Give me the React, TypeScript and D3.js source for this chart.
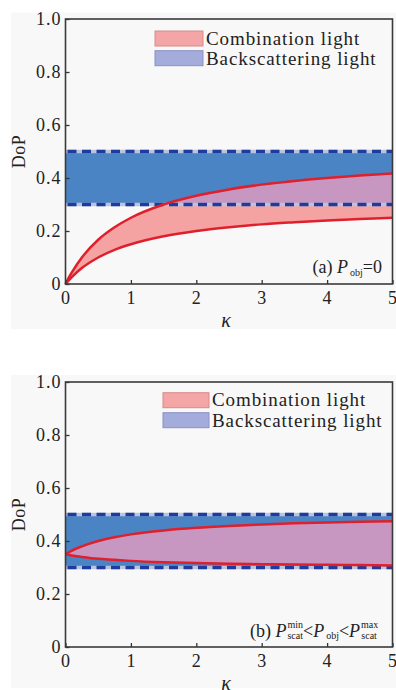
import { useEffect, useRef } from 'react'
import * as d3 from 'd3'

// kappa sample points and DoP values
const kappa = [0, 0.05, 0.1, 0.25, 0.5, 0.75, 1, 1.5, 2, 2.5, 3, 3.5, 4, 4.5, 5]
const aUpper = [0, 0.024, 0.045, 0.1, 0.167, 0.214, 0.25, 0.3, 0.333, 0.357, 0.375, 0.389, 0.4, 0.409, 0.417]
const aLower = [0, 0.014, 0.027, 0.06, 0.1, 0.129, 0.15, 0.18, 0.2, 0.214, 0.225, 0.233, 0.24, 0.245, 0.25]
const bUpper = [0.35, 0.357, 0.364, 0.38, 0.4, 0.414, 0.425, 0.44, 0.45, 0.457, 0.4625, 0.467, 0.47, 0.473, 0.475]
const bLower = [0.35, 0.348, 0.345, 0.34, 0.333, 0.329, 0.325, 0.32, 0.317, 0.314, 0.3125, 0.311, 0.31, 0.309, 0.308]
const backscatter = [0.3, 0.5]
const xTicks = [0, 1, 2, 3, 4, 5]
const yTicks = [0, 0.2, 0.4, 0.6, 0.8, 1.0]
const yTickLabels = ['0', '0.2', '0.4', '0.6', '0.8', '1.0']
const legendLabels = ['Combination light', 'Backscattering light']

const FONT = '"Liberation Serif", "DejaVu Serif", serif'

type Panel = {
  id: string, top: number, upper: number[], lower: number[],
  bg: [number, number], legend: { bx: number, tx: number, box: [number, number], base: [number, number] },
  note: (t: d3.Selection<SVGTextElement, unknown, null, undefined>) => void
}

export default function App() {
  const ref = useRef<SVGSVGElement>(null)

  useEffect(() => {
    const svg = d3.select(ref.current!)
    svg.selectAll('*').remove()
    const L = 65.5, R = 392.5, H = 265

    const panels: Panel[] = [
      {
        id: 'a', top: 19, upper: aUpper, lower: aLower, bg: [12.5, 329],
        legend: { bx: 155, tx: 206, box: [31, 50.7], base: [45, 64.5] },
        note: t => {
          t.attr('x', 382).attr('y', 273).attr('text-anchor', 'end')
          t.append('tspan').text('(a) ')
          t.append('tspan').attr('font-style', 'italic').text('P')
          t.append('tspan').attr('font-size', 10).attr('dy', 3).attr('dx', 2).text('obj')
          t.append('tspan').attr('dy', -3).text('=0')
        }
      },
      {
        id: 'b', top: 382, upper: bUpper, lower: bLower, bg: [375, 688],
        legend: { bx: 163, tx: 212, box: [392.7, 412.7], base: [405.7, 426.5] },
        note: t => {
          t.attr('x', 250).attr('y', 637).attr('letter-spacing', 0)
          t.append('tspan').text('(b) ')
          t.append('tspan').attr('font-style', 'italic').text('P')
          t.append('tspan').attr('font-size', 10).attr('dy', -9).attr('dx', 1).text('min')
          t.append('tspan').attr('font-size', 10).attr('dy', 11).attr('dx', -15.6).text('scat')
          t.append('tspan').attr('dy', -2).text('<')
          t.append('tspan').attr('font-style', 'italic').text('P')
          t.append('tspan').attr('font-size', 10).attr('dy', 2).attr('dx', 2).text('obj')
          t.append('tspan').attr('dy', -2).text('<')
          t.append('tspan').attr('font-style', 'italic').text('P')
          t.append('tspan').attr('font-size', 10).attr('dy', -9).attr('dx', 1).text('max')
          t.append('tspan').attr('font-size', 10).attr('dy', 11).attr('dx', -17).text('scat')
        }
      }
    ]

    panels.forEach(p => {
      const x = d3.scaleLinear().domain([0, 5]).range([L, R])
      const y = d3.scaleLinear().domain([0, 1]).range([p.top + H, p.top])
      const g = svg.append('g')

      g.append('rect').attr('x', 11).attr('y', p.bg[0]).attr('width', 385).attr('height', p.bg[1] - p.bg[0]).attr('fill', '#f8f8f8')

      // backscattering band
      g.append('rect').attr('x', L).attr('width', R - L)
        .attr('y', y(backscatter[1])).attr('height', y(backscatter[0]) - y(backscatter[1]))
        .attr('fill', '#4a84c4')

      const pts = kappa.map((k, i) => ({ k, lo: p.lower[i], hi: p.upper[i] }))
      const area = d3.area<typeof pts[0]>().x(d => x(d.k)).y0(d => y(d.lo)).y1(d => y(d.hi)).curve(d3.curveMonotoneX)
      g.append('path').attr('d', area(pts)!).attr('fill', '#f4a2a2')

      const clipId = `band-${p.id}`
      g.append('clipPath').attr('id', clipId).append('rect')
        .attr('x', L).attr('width', R - L)
        .attr('y', y(backscatter[1])).attr('height', y(backscatter[0]) - y(backscatter[1]))
      g.append('path').attr('d', area(pts)!).attr('fill', '#c797c2').attr('clip-path', `url(#${clipId})`)

      backscatter.forEach(v => {
        g.append('line').attr('x1', L).attr('x2', R).attr('y1', y(v)).attr('y2', y(v))
          .attr('stroke', '#bcc4dc').attr('stroke-width', 3.5)
        g.append('line').attr('x1', L + 2).attr('x2', R).attr('y1', y(v)).attr('y2', y(v))
          .attr('stroke', '#1e3c9e').attr('stroke-width', 3.5).attr('stroke-dasharray', '9 5.5')
      })

      const line = (key: 'lo' | 'hi') => d3.line<typeof pts[0]>().x(d => x(d.k)).y(d => y(d[key])).curve(d3.curveMonotoneX)(pts)!
      ;(['hi', 'lo'] as const).forEach(k => {
        g.append('path').attr('d', line(k)).attr('fill', 'none').attr('stroke', '#e01f2c').attr('stroke-width', 2.5)
      })

      // axes
      const xa = g.append('g').attr('transform', `translate(0,${p.top + H})`)
        .call(d3.axisBottom(x).tickValues(xTicks).tickFormat(d3.format('d')).tickSizeInner(-4).tickSizeOuter(0).tickPadding(7))
      const ya = g.append('g').attr('transform', `translate(${L},0)`)
        .call(d3.axisLeft(y).tickValues(yTicks).tickFormat((_, i) => yTickLabels[i]).tickSizeInner(-4).tickSizeOuter(0).tickPadding(4))
      ;[xa, ya].forEach(a => {
        a.select('.domain').remove()
        a.selectAll('line').attr('stroke', '#333').attr('stroke-width', 1.3)
        a.selectAll('text').attr('font-family', FONT).attr('font-size', 18).attr('fill', '#222').attr('letter-spacing', 1)
      })

      g.append('rect').attr('x', L).attr('y', p.top).attr('width', R - L).attr('height', H)
        .attr('fill', 'none').attr('stroke', '#3a3a3a').attr('stroke-width', 1.6)

      g.append('text').attr('transform', `translate(25,${p.top + H / 2}) rotate(-90)`)
        .attr('text-anchor', 'middle').attr('font-family', FONT).attr('font-size', 18).attr('fill', '#222')
        .attr('letter-spacing', 0.5).text('DoP')
      g.append('text').attr('x', (L + R) / 2 - 3).attr('y', p.top + 308).attr('text-anchor', 'middle')
        .attr('font-family', FONT).attr('font-style', 'italic').attr('font-size', 20).attr('fill', '#222').text('κ')

      // legend
      const lg = p.legend
      const fills = [['#f4a6a6', '#d88a8a'], ['#a3acdb', '#8892c4']]
      legendLabels.forEach((lab, i) => {
        g.append('rect').attr('x', lg.bx).attr('y', lg.box[i]).attr('width', lg.tx - lg.bx - 3).attr('height', 15)
          .attr('fill', fills[i][0]).attr('stroke', fills[i][1]).attr('stroke-width', 1)
        g.append('text').attr('x', lg.tx).attr('y', lg.base[i]).attr('font-family', FONT).attr('font-size', 19)
          .attr('letter-spacing', 0.9).attr('fill', '#222').text(lab)
      })

      const note = g.append('text').attr('font-family', FONT).attr('font-size', 18).attr('fill', '#222')
      p.note(note)
    })
  }, [])

  return <svg ref={ref} width={396} height={690} style={{ position: 'absolute', left: 0, top: 0, background: '#fff' }} />
}
